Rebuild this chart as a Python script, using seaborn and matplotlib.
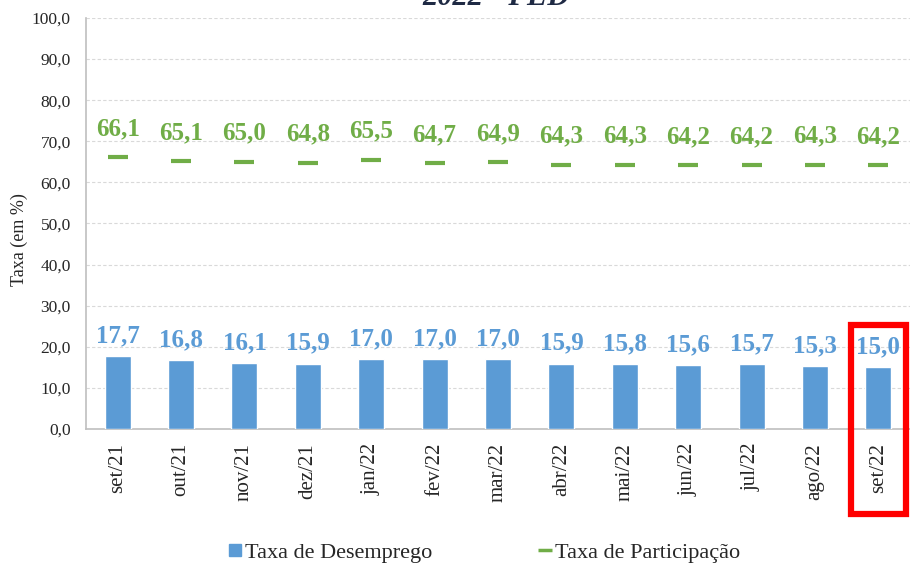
import numpy as np
import pandas as pd
import matplotlib
matplotlib.use("Agg")
import matplotlib.pyplot as plt
import matplotlib.transforms as mtransforms
from matplotlib.patches import Rectangle
from matplotlib.lines import Line2D
import seaborn as sns

# data
meses = ["set/21", "out/21", "nov/21", "dez/21", "jan/22", "fev/22", "mar/22",
         "abr/22", "mai/22", "jun/22", "jul/22", "ago/22", "set/22"]
desemprego = [17.7, 16.8, 16.1, 15.9, 17.0, 17.0, 17.0, 15.9, 15.8, 15.6, 15.7, 15.3, 15.0]
participacao = [66.1, 65.1, 65.0, 64.8, 65.5, 64.7, 64.9, 64.3, 64.3, 64.2, 64.2, 64.3, 64.2]
y_ticks = [0, 10, 20, 30, 40, 50, 60, 70, 80, 90, 100]

blue = "#5B9BD5"
green = "#70AD47"

sns.set_style("white")
plt.rcParams["font.family"] = ["Liberation Serif", "DejaVu Serif"]

df = pd.DataFrame({"mes": meses, "desemprego": desemprego, "participacao": participacao})

fig = plt.figure(figsize=(9.1, 5.66), dpi=100)
ax = fig.add_axes([86 / 910, 1 - 429 / 566, 1 - 86 / 910, (429 - 18) / 566])

sns.barplot(data=df, x="mes", y="desemprego", color=blue, width=0.41,
            saturation=1, ax=ax, zorder=3)
ax.plot(range(len(meses)), participacao, ls="none", marker="_", markersize=14,
        markeredgewidth=3, color=green, zorder=4)

for i, v in enumerate(desemprego):
    ax.annotate(f"{v:.1f}".replace(".", ","), (i, v), xytext=(0, 10),
                textcoords="offset points", ha="center", va="baseline",
                fontsize=18, fontweight="bold", color=blue)
for i, v in enumerate(participacao):
    ax.annotate(f"{v:.1f}".replace(".", ","), (i, v), xytext=(0, 16),
                textcoords="offset points", ha="center", va="baseline",
                fontsize=18, fontweight="bold", color=green)

ax.set_ylim(0, 100)
ax.set_xlim(-0.5, len(meses) - 0.5)
ax.set_yticks(y_ticks)
ax.set_yticklabels([f"{t:.1f}".replace(".", ",") for t in y_ticks], fontsize=12.5)
ax.yaxis.grid(True, color="#D9D9D9", linestyle=(0, (3, 2)), linewidth=0.8)
ax.set_axisbelow(True)
ax.tick_params(axis="y", length=0, pad=11)

ax.set_xticks(range(len(meses)))
ax.set_xticklabels(meses, rotation=90, fontsize=15)
ax.tick_params(axis="x", length=0, pad=10)
ax.set_xticks(np.arange(-0.5, len(meses) - 0.4, 1), minor=True)
ax.tick_params(axis="x", which="minor", length=7, color="#BFBFBF", width=1)

ax.set_xlabel("")
ax.set_ylabel("Taxa (em %)", fontsize=13)
ax.yaxis.set_label_coords(-0.07, 0.46)

for s in ["top", "right"]:
    ax.spines[s].set_visible(False)
for s in ["left", "bottom"]:
    ax.spines[s].set_color("#BFBFBF")
    ax.spines[s].set_linewidth(1.2)

# red highlight box around last month
trans = mtransforms.blended_transform_factory(ax.transData, fig.transFigure)
rect = Rectangle((len(meses) - 1 - 0.43, 1 - 514 / 566), 0.86, (514 - 325) / 566,
                 transform=trans, fill=False, edgecolor="#FF0000", linewidth=4.5,
                 clip_on=False, zorder=10)
fig.patches.append(rect)

# partially visible title
fig.text(0.545, 1 - 5 / 566, "2022 - PED", ha="center", va="baseline",
         fontsize=22, fontweight="bold", fontstyle="italic", color="#1F2A44")

handles = [Line2D([0], [0], ls="none", marker="s", markersize=9, color=blue),
           Line2D([0], [0], ls="none", marker="_", markersize=10, markeredgewidth=2.5, color=green)]
fig.legend(handles, ["Taxa de Desemprego", "Taxa de Participação"],
           loc="center", bbox_to_anchor=(0.531, 1 - 553 / 566), ncol=2,
           frameon=False, fontsize=16, columnspacing=4.7, handletextpad=0.05,
           handlelength=0.8)

fig.savefig("out.png", dpi=100)
